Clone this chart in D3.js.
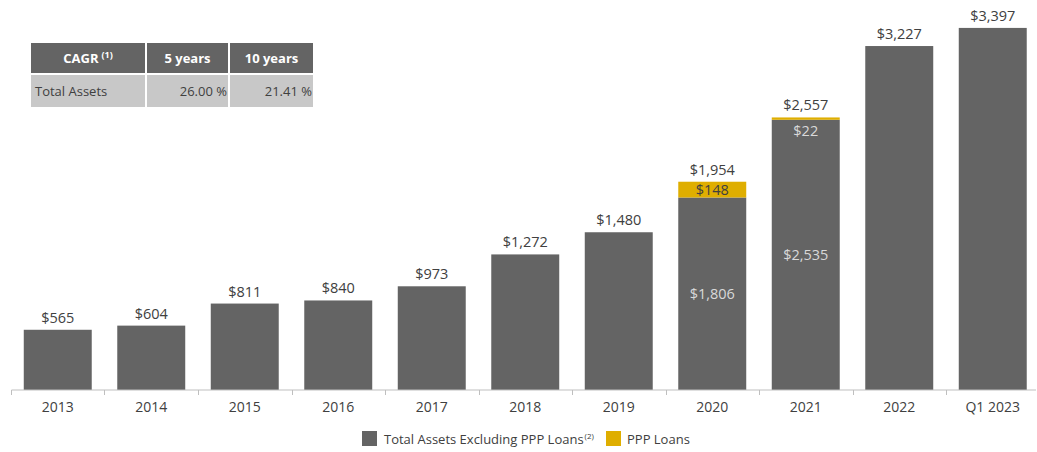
<!DOCTYPE html>
<html><head><meta charset="utf-8">
<script src="https://cdn.jsdelivr.net/npm/d3@7"></script>
<style>
html,body{margin:0;padding:0;background:#fff;}
svg{display:block;font-family:"Open Sans","Noto Sans",sans-serif;}
</style></head>
<body>
<svg id="chart" width="1037" height="452"></svg>
<script>
const categories = ["2013","2014","2015","2016","2017","2018","2019","2020","2021","2022","Q1 2023"];
const baseValues = [565,604,811,840,973,1272,1480,1806,2535,3227,3397];
const pppValues  = [0,0,0,0,0,0,0,148,22,0,0];
const totalValues = [565,604,811,840,973,1272,1480,1954,2557,3227,3397];
const seriesNames = ["Total Assets Excluding PPP Loans","PPP Loans"];
const tableHeader = ["CAGR","5 years","10 years"];
const tableRow = ["Total Assets","26.00 %","21.41 %"];

const GREY = "#646464", GOLD = "#dfae00";
const svg = d3.select("#chart");
const x = d3.scaleBand().domain(categories).range([11, 1039.5]).paddingInner(0.273).paddingOuter(0.1365);
const y = d3.scaleLinear().domain([0, 3400]).range([390, 27.6]);
const fmt = d3.format(",");

const data = categories.map((c,i)=>({cat:c, base:baseValues[i], ppp:pppValues[i], total:totalValues[i]}));

// base bars
svg.append("g").selectAll("rect").data(data).join("rect")
  .attr("x", d=>x(d.cat)).attr("width", x.bandwidth())
  .attr("y", d=>y(d.base)).attr("height", d=>y(0)-y(d.base))
  .attr("fill", GREY);
// ppp bars
svg.append("g").selectAll("rect").data(data.filter(d=>d.ppp>0)).join("rect")
  .attr("x", d=>x(d.cat)).attr("width", x.bandwidth())
  .attr("y", d=>y(d.base+d.ppp)).attr("height", d=>y(d.base)-y(d.base+d.ppp))
  .attr("fill", GOLD);

// axis
const axis = d3.axisBottom(x).tickSize(0).tickPadding(12);
const ag = svg.append("g").attr("transform","translate(0,390)").call(axis);
ag.select(".domain").attr("stroke","#bfbfbf").attr("stroke-width",1).attr("d","M11.5,0H1036");
ag.selectAll("text").attr("font-size",14).attr("fill","#404040").attr("font-family","Open Sans, Noto Sans, sans-serif");
// tick marks at category boundaries
const bounds = categories.map(c=>x(c)-x.step()*x.paddingInner()/2);
ag.selectAll("line.bnd").data(bounds).join("line").attr("class","bnd")
  .attr("x1",d=>Math.round(d)+0.5).attr("x2",d=>Math.round(d)+0.5).attr("y1",0).attr("y2",5)
  .attr("stroke","#bfbfbf");

// total labels
svg.append("g").selectAll("text").data(data).join("text")
  .attr("x", d=>x(d.cat)+x.bandwidth()/2).attr("y", d=>y(d.total)-7)
  .attr("text-anchor","middle").attr("font-size",14.5).attr("fill","#404040")
  .text(d=>"$"+fmt(d.total));

// inner labels for stacked bars
const stacked = data.filter(d=>d.ppp>0);
svg.append("g").selectAll("text").data(stacked).join("text")
  .attr("x", d=>x(d.cat)+x.bandwidth()/2)
  .attr("y", d=> (y(0)+y(d.base))/2 + 5)
  .attr("text-anchor","middle").attr("font-size",14.5).attr("fill","#d9d9d9")
  .text(d=>"$"+fmt(d.base));
svg.append("g").selectAll("text").data(stacked).join("text")
  .attr("x", d=>x(d.cat)+x.bandwidth()/2)
  .attr("y", d=> d.ppp > 60 ? (y(d.base)+y(d.base+d.ppp))/2 + 5 : y(d.base+d.ppp)+19)
  .attr("text-anchor","middle").attr("font-size",14.5)
  .attr("fill", d=> d.ppp > 60 ? "#404040" : "#d9d9d9")
  .text(d=>"$"+fmt(d.ppp));

// table
const cols = [[31,145],[147,228],[230,313]];
const tg = svg.append("g");
cols.forEach((c,i)=>{
  tg.append("rect").attr("x",c[0]).attr("y",43).attr("width",c[1]-c[0]).attr("height",30).attr("fill",GREY);
  tg.append("rect").attr("x",c[0]).attr("y",75).attr("width",c[1]-c[0]).attr("height",32).attr("fill","#c8c8c8");
});
const h0 = tg.append("text").attr("x",(cols[0][0]+cols[0][1])/2).attr("y",63).attr("text-anchor","middle")
  .attr("font-size",13).attr("font-weight","bold").attr("fill","#fff");
h0.append("tspan").text(tableHeader[0]);
h0.append("tspan").attr("dx",3).attr("dy",-5).attr("font-size",9).text("(1)");
[1,2].forEach(i=>{
  tg.append("text").attr("x",(cols[i][0]+cols[i][1])/2).attr("y",63).attr("text-anchor","middle")
    .attr("font-size",13).attr("font-weight","bold").attr("fill","#fff").text(tableHeader[i]);
});
tg.append("text").attr("x",35).attr("y",96).attr("font-size",13).attr("fill","#404040").text(tableRow[0]);
[1,2].forEach(i=>{
  tg.append("text").attr("x",cols[i][1]-1).attr("y",96).attr("text-anchor","end")
    .attr("font-size",13).attr("fill","#404040").text(tableRow[i]);
});

// legend
const lg = svg.append("g");
lg.append("rect").attr("x",362).attr("y",431).attr("width",15).attr("height",15).attr("fill",GREY);
const lt = lg.append("text").attr("x",384).attr("y",444).attr("font-size",13).attr("fill","#404040");
lt.append("tspan").text(seriesNames[0]);
lt.append("tspan").attr("dx",1).attr("dy",-5).attr("font-size",8).text("(2)");
lg.append("rect").attr("x",606).attr("y",431).attr("width",15).attr("height",15).attr("fill",GOLD);
lg.append("text").attr("x",627).attr("y",444).attr("font-size",13).attr("fill","#404040").text(seriesNames[1]);
</script>
</body></html>
